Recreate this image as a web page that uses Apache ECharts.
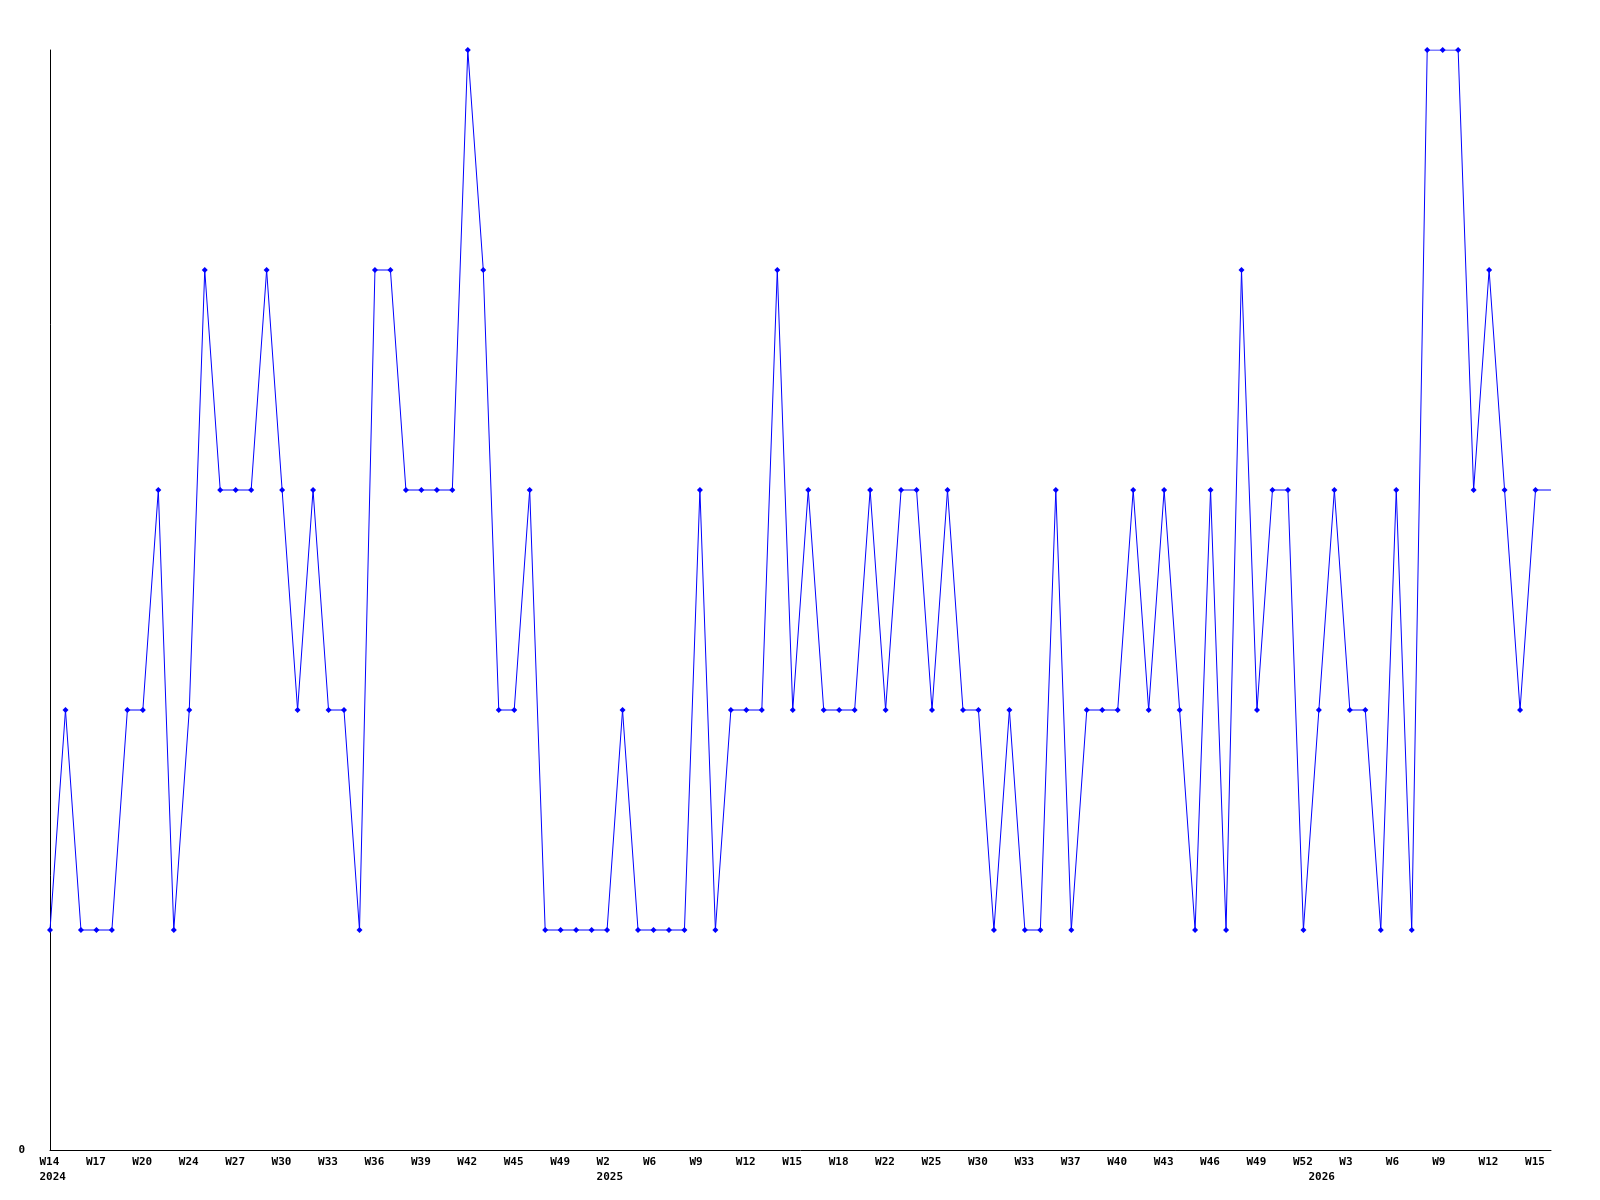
<!DOCTYPE html>
<html>
<head>
<meta charset="utf-8">
<script src="https://cdn.jsdelivr.net/npm/echarts@6/dist/echarts.min.js"></script>
<style>html,body{margin:0;padding:0;background:#fff}#c{width:1600px;height:1200px}</style>
</head>
<body>
<div id="c"></div>
<script>
// Series values, one per plotted point (last point is the unmarked tail)
var values = [
  1,2,1,1,1,2,2,3,1,2,
  4,3,3,3,4,3,2,3,2,2,
  1,4,4,3,3,3,3,5,4,2,
  2,3,1,1,1,1,1,2,1,1,
  1,1,3,1,2,2,2,4,2,3,
  2,2,2,3,2,3,3,2,3,2,
  2,1,2,1,1,3,1,2,2,2,
  3,2,3,2,1,3,1,4,2,3,
  3,1,2,3,2,2,1,3,1,5,
  5,5,3,4,3,2,3,3
];
// Week tick labels, shown on every third point
var tickLabels = ['W14','W17','W20','W24','W27','W30','W33','W36','W39','W42','W45','W49',
  'W2','W6','W9','W12','W15','W18','W22','W25','W30','W33','W37','W40','W43','W46','W49','W52',
  'W3','W6','W9','W12','W15'];
// Year labels (second line) and the point index they sit under
var yearLabels = ['2024','2025','2026'];
var yearPointIdx = [0, 36, 82];
var yTickLabels = ['0'];

var categories = values.map(function(v,i){ return 'p' + i; });
var seriesData = values.map(function(v,i){
  return i === values.length - 1 ? {value: v, symbol: 'none'} : v;
});
function yearAt(idx){
  var k = yearPointIdx.indexOf(idx);
  return k >= 0 ? yearLabels[k] : null;
}

var chart = echarts.init(document.getElementById('c'), null, {renderer: 'canvas'});
var lblFont = {fontFamily: 'DejaVu Sans Mono', fontWeight: 'bold', fontSize: 11, color: '#000'};
chart.setOption({
  animation: false,
  backgroundColor: '#fff',
  grid: [
    {left: 50, right: 49, top: 50, bottom: 50, containLabel: false},
    {left: 39.5, right: 59.5, top: 50, bottom: 50, containLabel: false}
  ],
  xAxis: [
    {gridIndex: 0, type: 'category', data: categories, boundaryGap: false,
     axisLine: {lineStyle: {color: '#000', width: 1}}, axisTick: {show: false},
     axisLabel: {show: false}, splitLine: {show: false}},
    {gridIndex: 1, type: 'category', data: categories, boundaryGap: false,
     axisLine: {show: false}, axisTick: {show: false}, splitLine: {show: false},
     axisLabel: Object.assign({
       interval: function(idx){ return idx % 3 === 0 || yearAt(idx) !== null; },
       align: 'left', verticalAlign: 'top', margin: 5, lineHeight: 15,
       formatter: function(v, idx){
         var t = idx % 3 === 0 ? (tickLabels[idx / 3] || '') : '';
         var y = yearAt(idx);
         if (y) t += '\n' + y;
         return t;
       }
     }, lblFont)}
  ],
  yAxis: [
    {gridIndex: 0, type: 'value', min: 0, max: 5, interval: 5,
     axisLine: {show: true, lineStyle: {color: '#000', width: 1}}, axisTick: {show: false},
     splitLine: {show: false},
     axisLabel: Object.assign({margin: 25, formatter: function(v){ return v === 0 ? yTickLabels[0] : ''; }}, lblFont)},
    {gridIndex: 1, type: 'value', min: 0, max: 1, show: false}
  ],
  series: [{
    type: 'line', xAxisIndex: 0, yAxisIndex: 0,
    data: seriesData,
    symbol: 'diamond', symbolSize: 6, showAllSymbol: true,
    lineStyle: {color: '#0000ff', width: 1},
    itemStyle: {color: '#0000ff'},
    emphasis: {disabled: true}
  }]
});
</script>
</body>
</html>
